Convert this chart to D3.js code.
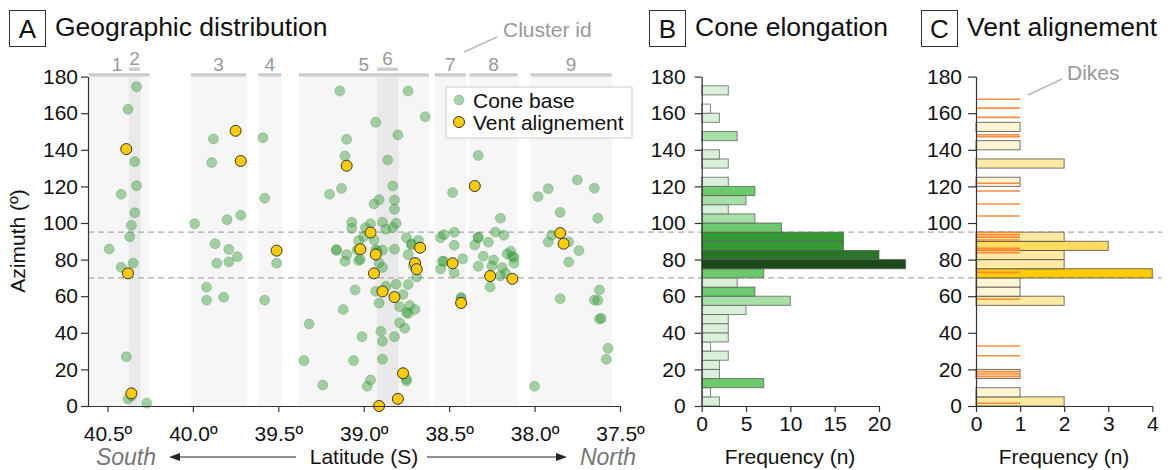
<!DOCTYPE html>
<html><head><meta charset="utf-8">
<script src="https://cdn.jsdelivr.net/npm/d3@7"></script>
<style>
body{margin:0;background:#fff;}
svg text{font-family:"Liberation Sans",Arial,sans-serif;fill:#111;}
</style></head><body>
<svg id="chart" width="1170" height="470"></svg>
<script>
// ---------- DATA ----------
const coneLat = [40.33,40.38,40.34,40.33,40.42,40.34,40.36,40.37,40.49,40.35,40.42,40.39,40.38,40.36,40.27,
 39.88,39.89,39.99,39.80,39.72,39.87,39.79,39.74,39.86,39.79,39.92,39.92,39.82,
 39.59,39.58,39.51,39.58,
 39.14,38.74,38.64,38.93,38.80,39.10,39.11,38.86,38.83,39.13,39.20,38.91,38.94,38.82,38.82,
 39.07,39.07,38.96,38.89,38.81,38.99,38.87,38.83,39.00,39.03,38.94,39.16,39.16,39.10,39.11,39.04,39.03,39.02,
 38.93,38.92,38.89,38.82,38.91,38.89,38.75,38.72,38.72,38.68,38.74,38.69,38.71,
 39.05,38.93,38.87,38.81,38.74,38.77,39.12,38.91,38.79,38.73,38.70,38.75,38.74,39.32,38.79,38.76,
 39.01,38.90,38.82,38.89,39.35,39.06,38.89,39.24,38.96,38.98,38.75,38.75,
 38.33,38.48,38.20,38.55,38.53,38.47,38.47,38.33,38.33,38.35,38.27,38.23,38.18,38.30,38.24,38.25,38.33,38.19,
 38.16,38.14,38.13,38.12,38.12,38.17,38.20,38.26,38.53,38.54,38.42,38.55,38.47,38.43,38.43,
 37.75,37.92,37.65,37.98,37.85,37.63,37.90,37.92,37.80,37.74,37.80,37.85,37.62,37.65,37.63,37.62,37.61,37.57,37.58,38.00];
const coneAz = [174.5,162.1,133.5,120.4,115.7,105.6,98.7,92.5,85.8,78.0,75.8,26.9,3.8,5.5,1.5,
 145.9,133.0,99.6,101.8,104.2,88.7,85.6,81.6,78.0,78.7,64.9,57.8,59.4,
 146.6,113.5,78.0,57.8,
 172.1,172.1,158.1,155.0,148.1,145.7,136.6,134.4,120.2,118.9,115.7,112.7,110.4,112.6,107.5,
 100.4,97.1,99.6,100.4,99.8,97.4,96.6,97.5,92.5,90.3,90.7,85.5,85.0,82.7,79.1,85.2,79.5,80.2,
 85.4,84.7,85.2,85.7,78.1,75.7,92.0,88.6,88.0,90.5,82.7,70.5,76.5,
 63.4,62.7,65.4,66.5,66.4,60.9,52.7,56.2,54.3,54.9,52.7,51.1,50.5,44.8,45.5,42.5,
 37.9,40.8,37.9,35.4,24.8,24.8,25.5,11.5,14.2,10.8,14.8,13.7,
 136.9,116.6,102.6,92.0,93.6,94.9,87.8,92.3,91.8,88.0,89.5,95.0,93.3,81.8,79.8,76.5,76.3,75.7,
 83.1,84.6,81.7,81.1,78.0,72.5,71.1,65.0,78.9,79.2,80.4,74.9,72.7,59.3,58.7,
 123.5,118.7,119.0,114.4,105.8,102.6,93.3,89.6,89.6,84.9,78.7,58.6,63.4,57.9,57.7,47.5,47.9,31.5,25.5,10.8];

const ventLat = [40.39,40.38,40.36,39.75,39.72,39.51,39.10,38.96,39.02,38.93,38.94,38.67,38.70,
 38.69,38.89,38.82,38.77,38.80,38.91,38.35,38.48,38.43,38.26,38.13,37.85,37.83];
const ventAz = [140.4,72.5,6.9,150.4,133.9,84.9,131.3,94.8,85.7,82.8,72.5,86.5,78.1,
 74.8,62.6,59.5,17.9,3.9,0.0,120.2,78.0,56.3,71.0,69.5,94.5,88.7];

const clusterIds   = ["1","2","3","4","5","6","7","8","9"];
const clusterSouth = [40.614,40.376,40.014,39.621,39.382,38.924,38.587,38.384,38.026];
const clusterNorth = [40.251,40.307,39.685,39.480,38.616,38.796,38.400,38.097,37.546];
const clusterSub   = [false,true,false,false,false,true,false,false,false];

// 5-degree azimuth bins (lower edges)
const binStart = [0,5,10,15,20,25,30,35,40,45,50,55,60,65,70,75,80,85,90,95,100,105,110,115,120,125,130,135,140,145,150,155,160,165,170,175];
const coneCounts = [2,1,7,2,2,3,1,3,3,3,5,10,6,4,7,23,20,16,16,9,6,3,5,6,3,0,3,2,0,4,0,2,1,0,3,0];
const coneShade  = [1,0,3,1,1,1,0,1,1,1,1,2,3,1,3,6,5,4,4,3,2,1,2,3,1,0,1,1,0,2,0,1,0,0,1,0];
const ventCounts = [2,1,0,1,0,0,0,0,0,0,0,2,1,1,4,2,2,3,2,0,0,0,0,0,1,0,2,0,1,0,1,0,0,0,0,0];
const dikeAz = [167.6,162.8,157.7,148.2,147.2,121.7,117.5,110.4,103.8,94.8,93.6,92.3,90.7,86.2,85.2,83.8,73.0,58.5,32.8,27.5,18.8,17.5,16.2,1.5];

const azTicks = [0,20,40,60,80,100,120,140,160,180];
const latTicks = [40.5,40.0,39.5,39.0,38.5,38.0,37.5];
const freqTicksB = [0,5,10,15,20];
const freqTicksC = [0,1,2,3,4];
const refAz = [70,95];

// ---------- SCALES ----------
const svg = d3.select("#chart");
const x = d3.scaleLinear().domain([40.614,37.5]).range([88,620]);
const y = d3.scaleLinear().domain([0,180]).range([406,76.6]);
const xB = d3.scaleLinear().domain([0,20]).range([701.7,879]);
const xC = d3.scaleLinear().domain([0,4]).range([976,1152.3]);
const shadeColor = d3.scaleOrdinal().domain([0,1,2,3,4,5,6])
  .range(["#f1f9f1","#d8f1d8","#a6dea6","#6cc96c","#339a33","#2a752a","#1b4a1b"]);
const ventColor = d3.scaleThreshold().domain([2,3,4]).range(["#fff4d4","#ffe9a3","#ffdc5e","#ffcc00"]);

// ---------- PANEL A background bands ----------
const bands = clusterIds.map((id,i)=>({id, s:clusterSouth[i], n:clusterNorth[i], sub:clusterSub[i]}));
svg.append("g").selectAll("rect").data(bands.filter(d=>!d.sub)).join("rect")
  .attr("x",d=>x(d.s)).attr("width",d=>x(d.n)-x(d.s))
  .attr("y",y(180)).attr("height",y(0)-y(180)).attr("fill","#f6f6f6");
svg.append("g").selectAll("rect").data(bands.filter(d=>d.sub)).join("rect")
  .attr("x",d=>x(d.s)).attr("width",d=>x(d.n)-x(d.s))
  .attr("y",y(180)).attr("height",y(0)-y(180)).attr("fill","#e9e9e9");
svg.append("g").selectAll("rect").data(bands).join("rect")
  .attr("x",d=>x(d.s)+0.5).attr("width",d=>x(d.n)-x(d.s)-1)
  .attr("y",d=>d.sub?67.5:73.2).attr("height",3.4).attr("fill","#cccccc");
svg.append("g").selectAll("text").data(bands).join("text")
  .attr("x",d=>(x(d.s)+x(d.n))/2 - (d.id==="1"?2:0)).attr("y",d=>d.sub?65:71)
  .attr("text-anchor","middle").attr("font-size",19).style("fill","#999").text(d=>d.id);
svg.append("line").attr("x1",464).attr("y1",52).attr("x2",497).attr("y2",37).attr("stroke","#bbb").attr("stroke-width",1.5);
svg.append("text").attr("x",503).attr("y",37).attr("font-size",21).style("fill","#999").text("Cluster id");

// reference dashed lines
svg.append("g").selectAll("line").data(refAz).join("line")
  .attr("x1",88).attr("x2",1162).attr("y1",d=>y(d)).attr("y2",d=>y(d))
  .attr("stroke","#aaa").attr("stroke-width",1.4).attr("stroke-dasharray","6,4");

// ---------- PANEL A points ----------
const cones = coneLat.map((l,i)=>({lat:l, az:coneAz[i]}));
const vents = ventLat.map((l,i)=>({lat:l, az:ventAz[i]}));
svg.append("g").selectAll("circle").data(cones).join("circle")
  .attr("cx",d=>x(d.lat)).attr("cy",d=>y(d.az)).attr("r",5)
  .attr("fill","rgb(60,160,60)").attr("fill-opacity",0.45)
  .attr("stroke","rgb(40,120,40)").attr("stroke-opacity",0.25).attr("stroke-width",1);
svg.append("g").selectAll("circle").data(vents).join("circle")
  .attr("cx",d=>x(d.lat)).attr("cy",d=>y(d.az)).attr("r",5.5)
  .attr("fill","#ffcc00").attr("stroke","#333").attr("stroke-width",1);

function styleAxis(g, fs){
  g.selectAll("path.domain").attr("stroke","#333").attr("stroke-width",1.2);
  g.selectAll(".tick line").attr("stroke","#333").attr("stroke-width",1.2);
  g.selectAll(".tick text").attr("font-size",fs).style("fill","#111")
   .attr("font-family","'Liberation Sans',Arial,sans-serif");
}
const gxA = svg.append("g").attr("transform","translate(0,406)")
  .call(d3.axisBottom(x).tickValues(latTicks).tickFormat(d=>d.toFixed(1)+"º").tickSize(6).tickSizeOuter(0));
gxA.select("path.domain").attr("d","M88,0.5H620");
styleAxis(gxA,21);
gxA.selectAll(".tick text").attr("y",35).attr("dy",0);
const gyA = svg.append("g").attr("transform","translate(88,0)")
  .call(d3.axisLeft(y).tickValues(azTicks).tickSize(7).tickPadding(3).tickSizeOuter(0));
styleAxis(gyA,21);

svg.append("text").attr("transform","translate(25,241) rotate(-90)")
  .attr("text-anchor","middle").attr("font-size",21).text("Azimuth (º)");
svg.append("text").attr("x",364).attr("y",464).attr("text-anchor","middle").attr("font-size",21).text("Latitude (S)");
svg.append("text").attr("x",126).attr("y",465).attr("text-anchor","middle").attr("font-size",23)
  .attr("font-style","italic").style("fill","#777").text("South");
svg.append("text").attr("x",608).attr("y",465).attr("text-anchor","middle").attr("font-size",23)
  .attr("font-style","italic").style("fill","#777").text("North");
svg.append("line").attr("x1",178).attr("x2",296).attr("y1",457).attr("y2",457).attr("stroke","#222").attr("stroke-width",1.2);
svg.append("path").attr("d","M169,457L180,453L180,461Z").attr("fill","#222");
svg.append("line").attr("x1",427).attr("x2",558).attr("y1",457).attr("y2",457).attr("stroke","#222").attr("stroke-width",1.2);
svg.append("path").attr("d","M567,457L556,453L556,461Z").attr("fill","#222");

// legend
const lg = svg.append("g");
lg.append("rect").attr("x",446).attr("y",87).attr("width",186).attr("height",51)
  .attr("fill","#fff").attr("stroke","#ccc").attr("stroke-width",1);
lg.append("circle").attr("cx",459).attr("cy",100).attr("r",5)
  .attr("fill","rgb(60,160,60)").attr("fill-opacity",0.45).attr("stroke","rgb(40,120,40)").attr("stroke-opacity",0.25);
lg.append("circle").attr("cx",459).attr("cy",122).attr("r",5.5).attr("fill","#ffcc00").attr("stroke","#333");
lg.append("text").attr("x",473).attr("y",108).attr("font-size",21).text("Cone base");
lg.append("text").attr("x",473).attr("y",130).attr("font-size",21).text("Vent alignement");

// ---------- titles ----------
function title(bx, letter, label){
  svg.append("rect").attr("x",bx+0.5).attr("y",10.5).attr("width",36).attr("height",36)
    .attr("fill","#fff").attr("stroke","#333").attr("stroke-width",1);
  svg.append("text").attr("x",bx+18.5).attr("y",38).attr("text-anchor","middle").attr("font-size",26).text(letter);
  svg.append("text").attr("x",bx+46).attr("y",36).attr("font-size",26.5).text(label);
}
title(9,"A","Geographic distribution");
title(649,"B","Cone elongation");
title(921,"C","Vent alignement");

// ---------- PANEL B ----------
const binsB = binStart.map((b,i)=>({b, n:coneCounts[i], s:coneShade[i]})).filter(d=>d.n>0);
svg.append("g").selectAll("rect").data(binsB).join("rect")
  .attr("x",xB(0)).attr("y",d=>y(d.b+5)).attr("width",d=>xB(d.n)-xB(0)).attr("height",d=>y(d.b)-y(d.b+5))
  .attr("fill",d=>shadeColor(d.s)).attr("stroke","#555").attr("stroke-opacity",0.7).attr("stroke-width",1);
const gxB = svg.append("g").attr("transform","translate(0,406)")
  .call(d3.axisBottom(xB).tickValues(freqTicksB).tickFormat(d3.format("d")).tickSize(6).tickSizeOuter(0));
styleAxis(gxB,21);
gxB.selectAll(".tick text").attr("y",25).attr("dy",0);
const gyB = svg.append("g").attr("transform","translate(701.7,0)")
  .call(d3.axisLeft(y).tickValues(azTicks).tickSize(7).tickPadding(9).tickSizeOuter(0));
styleAxis(gyB,21);
svg.append("text").attr("x",790).attr("y",464).attr("text-anchor","middle").attr("font-size",21).text("Frequency (n)");

// ---------- PANEL C ----------
const binsC = binStart.map((b,i)=>({b, n:ventCounts[i]})).filter(d=>d.n>0);
svg.append("g").selectAll("rect").data(binsC).join("rect")
  .attr("x",xC(0)).attr("y",d=>y(d.b+5)).attr("width",d=>xC(d.n)-xC(0)).attr("height",d=>y(d.b)-y(d.b+5))
  .attr("fill",d=>ventColor(d.n)).attr("stroke","#444").attr("stroke-opacity",0.75).attr("stroke-width",1);
svg.append("g").selectAll("line").data(dikeAz).join("line")
  .attr("x1",xC(0)).attr("x2",xC(1)).attr("y1",d=>y(d)).attr("y2",d=>y(d))
  .attr("stroke","#ff7f2a").attr("stroke-width",1.6).attr("stroke-opacity",0.9);
const gxC = svg.append("g").attr("transform","translate(0,406)")
  .call(d3.axisBottom(xC).tickValues(freqTicksC).tickFormat(d3.format("d")).tickSize(6).tickSizeOuter(0));
styleAxis(gxC,21);
gxC.selectAll(".tick text").attr("y",25).attr("dy",0);
const gyC = svg.append("g").attr("transform","translate(976,0)")
  .call(d3.axisLeft(y).tickValues(azTicks).tickSize(8).tickPadding(6).tickSizeOuter(0));
styleAxis(gyC,21);
svg.append("text").attr("x",1064).attr("y",464).attr("text-anchor","middle").attr("font-size",21).text("Frequency (n)");
svg.append("line").attr("x1",1028).attr("y1",95).attr("x2",1062).attr("y2",79).attr("stroke","#bbb").attr("stroke-width",1.5);
svg.append("text").attr("x",1067).attr("y",80).attr("font-size",21).style("fill","#999").text("Dikes");
</script>
</body></html>
